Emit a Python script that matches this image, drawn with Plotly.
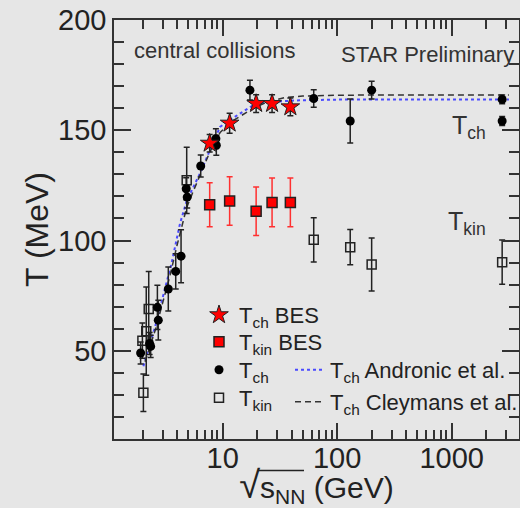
import plotly.graph_objects as go

# ---------------- data ----------------
sqrt_s_bes = [7.7, 11.5, 19.6, 27, 39]
tch_bes = [144.1, 153.2, 162.1, 162.1, 160.6]
tch_bes_err = [4, 4.5, 4, 4, 4]
tkin_bes = [116.2, 117.9, 113.3, 117.3, 117.3]
tkin_bes_err = [10, 11, 11, 11, 11]

sqrt_s_ch = [1.92, 2.3, 2.35, 2.69, 2.74, 3.35, 3.89, 4.33, 4.8, 4.9, 6.43, 8.72, 8.8, 17.3, 62.4, 130, 200, 2760, 2760]
tch = [49, 53.3, 52, 69.7, 63.9, 78, 86, 92.9, 123.5, 119.7, 133.8, 146.2, 143.2, 168.2, 164.4, 154.2, 168.2, 164, 154.2]
tch_err = [5, 5, 5, 10, 9, 10, 8, 12, 5, 5, 5, 4.5, 4.5, 4.5, 4, 10, 4, 2, 2]

sqrt_s_kin = [2.03, 1.99, 2.15, 2.26, 4.85, 62.4, 130, 200, 2760]
tkin = [31, 54.6, 58.9, 68.9, 127.3, 100.3, 97, 89.1, 90.2]
tkin_err = [8.5, 8, 20, 17, 15, 10, 8, 12, 10]

andronic_x = [2.03, 2.09, 2.3, 2.56, 3.0, 3.24, 3.5, 3.59, 4.0, 4.24, 4.85, 5.5, 6.34, 7.74, 9.47, 12, 14.2, 18.5, 25, 35, 47, 100, 300, 1000, 3160]
andronic_t = [43, 45.5, 52.6, 60.6, 74.8, 81.8, 88, 90, 101.6, 107.7, 118, 123.9, 130.5, 141, 151.5, 155.2, 157.6, 161.4, 162.8, 163.4, 163.6, 163.9, 164, 164, 164]

cleymans_x = [2.1, 2.3, 2.6, 3.0, 3.5, 4.0, 4.85, 5.5, 6.4, 7.7, 9.5, 12, 14.7, 18.5, 25, 35, 50, 100, 300, 1000, 3160]
cleymans_t = [45, 51, 60, 72, 85, 98, 115, 122, 130, 140, 149, 154, 156.8, 160, 163, 164.8, 165.5, 165.9, 166, 166, 166]

x_ticks = [10, 100, 1000]
y_ticks = [50, 100, 150, 200]

# ---------------- figure ----------------
BG = "#e6e6e6"
AX = "#333333"
TXT = "#222222"
FONT = "Liberation Sans, Arial, sans-serif"

L, R, T, B = 114, 1, 20, 69
W, H = 520, 508
PW, PH = W - L - R, H - T - B


def px_x(p):
    return (p - L) / PW


def px_y(p):
    return (H - B - p) / PH


fig = go.Figure()

fig.add_trace(go.Scatter(
    x=andronic_x, y=andronic_t, mode="lines",
    line=dict(color="#4a4aff", width=2, dash="dot"),
    name="T<sub>ch</sub> Andronic et al.", legend="legend5"))
fig.add_trace(go.Scatter(
    x=cleymans_x, y=cleymans_t, mode="lines",
    line=dict(color="#333333", width=1.5, dash="6px,4px"),
    name="T<sub>ch</sub> Cleymans et al.", legend="legend6"))

fig.add_trace(go.Scatter(
    x=sqrt_s_kin, y=tkin, mode="markers",
    marker=dict(symbol="square-open", size=9, color="#222222", line=dict(width=1.5, color="#222222")),
    error_y=dict(type="data", array=tkin_err, width=3, thickness=1.5, color="#222222"),
    name="T<sub>kin</sub>", legend="legend4"))
fig.add_trace(go.Scatter(
    x=sqrt_s_ch, y=tch, mode="markers",
    marker=dict(symbol="circle", size=9, color="#000000"),
    error_y=dict(type="data", array=tch_err, width=3, thickness=1.5, color="#222222"),
    name="T<sub>ch</sub>", legend="legend3"))
fig.add_trace(go.Scatter(
    x=sqrt_s_bes, y=tkin_bes, mode="markers",
    marker=dict(symbol="square", size=10, color="#ff0000", line=dict(width=1.5, color="#222222")),
    error_y=dict(type="data", array=tkin_bes_err, width=3, thickness=1.5, color="#ff3030"),
    name="T<sub>kin</sub> BES", legend="legend2"))
fig.add_trace(go.Scatter(
    x=sqrt_s_bes, y=tch_bes, mode="markers",
    marker=dict(symbol="star", size=14, color="#ff0000", line=dict(width=1, color="#222222")),
    error_y=dict(type="data", array=tch_bes_err, width=3, thickness=1.5, color="#222222"),
    name="T<sub>ch</sub> BES", legend="legend"))

legfont = dict(family=FONT, size=22, color=TXT)
leg_common = dict(font=legfont, bgcolor="rgba(0,0,0,0)", borderwidth=0,
                  xanchor="left", yanchor="middle", itemsizing="trace")

left_x = px_x(199)
right_x = px_x(290)

annotations = [
    dict(text="central collisions", x=px_x(132), y=px_y(51), xref="paper", yref="paper",
         xanchor="left", yanchor="middle", showarrow=False, font=dict(family=FONT, size=22, color="#333333")),
    dict(text="STAR Preliminary", x=px_x(339), y=px_y(54), xref="paper", yref="paper",
         xanchor="left", yanchor="middle", showarrow=False, font=dict(family=FONT, size=22, color="#333333")),
    dict(text="T<sub>ch</sub>", x=px_x(450), y=px_y(127), xref="paper", yref="paper",
         xanchor="left", yanchor="middle", showarrow=False, font=dict(family=FONT, size=25, color="#333333")),
    dict(text="T<sub>kin</sub>", x=px_x(446), y=px_y(223), xref="paper", yref="paper",
         xanchor="left", yanchor="middle", showarrow=False, font=dict(family=FONT, size=25, color="#333333")),
    dict(text="b", x=px_x(123), y=px_y(8), xref="paper", yref="paper",
         xanchor="left", yanchor="bottom", showarrow=False, font=dict(family=FONT, size=30, color=TXT)),
]

shapes = [
    # overline of the square-root sign in the x-axis title
    dict(type="line", xref="paper", yref="paper",
         x0=px_x(258), x1=px_x(304), y0=px_y(470.5), y1=px_y(470.5),
         line=dict(color=TXT, width=1.5)),
]

fig.update_layout(
    width=W, height=H,
    margin=dict(l=L, r=R, t=T, b=B, autoexpand=False),
    paper_bgcolor=BG, plot_bgcolor=BG,
    font=dict(family=FONT, color=TXT),
    showlegend=True,
    legend=dict(x=left_x, y=px_y(315), **leg_common),
    legend2=dict(x=left_x, y=px_y(342), **leg_common),
    legend3=dict(x=left_x, y=px_y(370), **leg_common),
    legend4=dict(x=left_x, y=px_y(398), **leg_common),
    legend5=dict(x=right_x, y=px_y(370), **leg_common),
    legend6=dict(x=right_x, y=px_y(402), **leg_common),
    annotations=annotations,
    shapes=shapes,
    xaxis=dict(
        type="log", range=[0.0508, 3.588],
        tickmode="array", tickvals=x_ticks, ticktext=[str(v) for v in x_ticks],
        ticks="inside", ticklen=16, tickwidth=1.5, tickcolor=AX,
        minor=dict(ticks="inside", ticklen=9, tickwidth=1.5, tickcolor=AX, dtick="D1", showgrid=False),
        showline=True, linecolor=AX, linewidth=1.5, mirror="allticks",
        showgrid=False, zeroline=False,
        ticklabelstandoff=-8,
        tickfont=dict(family=FONT, size=29, color=TXT),
        title=dict(text="<span style=\"font-size:38px\">\u221a</span>s<sub>NN</sub> (GeV)",
                   font=dict(family=FONT, size=30, color=TXT), standoff=7),
    ),
    yaxis=dict(
        range=[10, 200],
        tickmode="array", tickvals=y_ticks,
        ticks="inside", ticklen=17, tickwidth=1.5, tickcolor=AX,
        minor=dict(ticks="inside", ticklen=10, tickwidth=1.5, tickcolor=AX, dtick=10, tick0=0, showgrid=False),
        showline=True, linecolor=AX, linewidth=1.5, mirror="allticks",
        showgrid=False, zeroline=False,
        tickfont=dict(family=FONT, size=29, color=TXT),
        title=dict(text="T (MeV)", font=dict(family=FONT, size=32, color=TXT), standoff=0),
    ),
)

fig.write_html("out.html")
